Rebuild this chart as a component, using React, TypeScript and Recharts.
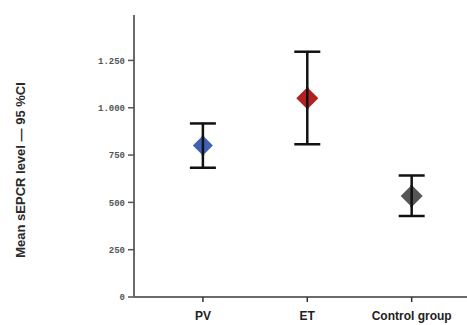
import { ScatterChart, Scatter, XAxis, YAxis, ErrorBar } from 'recharts';

const groups = ['PV', 'ET', 'Control group'];
const means = [800, 1050, 533];
const lower = [683, 807, 428];
const upper = [917, 1296, 642];
const colors = ['#3f60b3', '#b3211e', '#565656'];
const yTicks = [0, 250, 500, 750, 1000, 1250];

const data = groups.map((name, i) => ({
    x: i + 1,
    name,
    mean: means[i],
    err: [means[i] - lower[i], upper[i] - means[i]],
    color: colors[i],
}));

// 1.250 style with a dot as thousands separator
const fmtY = (v: number) => v >= 1000 ? `${Math.floor(v / 1000)}.${String(v % 1000).padStart(3, '0')}` : String(v);

const Diamond = (props: any) => {
    const { cx, cy, payload } = props;
    const h = payload.x === 1 ? 10 : 11;
    return (
        <g>
            <polygon points={`${cx},${cy - h} ${cx + h},${cy} ${cx},${cy + h} ${cx - h},${cy}`} fill={payload.color} />
            <line x1={cx} y1={cy - h} x2={cx} y2={cy + h} stroke="#111" strokeWidth={2.5} />
        </g>
    );
};

const axisLine = { stroke: '#6a6a6a', strokeWidth: 2 };

export default function App() {
    return (
        <div style={{ position: 'absolute', left: 0, top: 0, width: 467, height: 325, background: '#fff' }}>
            <ScatterChart width={467} height={325} margin={{ top: 15, right: 0, bottom: 0, left: 0 }}>
                <XAxis
                    xAxisId="top"
                    orientation="top"
                    type="number"
                    dataKey="x"
                    domain={[0.34, 3.53]}
                    height={0}
                    tick={false}
                    tickLine={false}
                    axisLine={axisLine}
                />
                <XAxis
                    type="number"
                    dataKey="x"
                    domain={[0.34, 3.53]}
                    ticks={[1, 2, 3]}
                    tickFormatter={(v) => groups[v - 1]}
                    height={28}
                    axisLine={axisLine}
                    tickLine={{ stroke: '#333', strokeWidth: 1.5 }}
                    tickSize={5}
                    tickMargin={9}
                    tick={{ fill: '#222', fontSize: 12, fontWeight: 700, fontFamily: 'Liberation Sans, Arial, sans-serif' }}
                />
                <YAxis
                    type="number"
                    dataKey="mean"
                    domain={[0, 1490]}
                    ticks={yTicks}
                    tickFormatter={fmtY}
                    width={134}
                    axisLine={axisLine}
                    tickLine={{ stroke: '#555', strokeWidth: 1.5 }}
                    tickSize={6}
                    tickMargin={3}
                    tick={{ fill: '#555', fontSize: 9, fontFamily: 'Liberation Mono, monospace', fontWeight: 700 }}
                    label={{
                        content: ({ viewBox }: any) => {
                            const x = viewBox.x + 20;
                            const y = viewBox.y + viewBox.height / 2 + 14;
                            return (
                                <text x={x} y={y} transform={`rotate(-90, ${x}, ${y})`} textAnchor="middle" dominantBaseline="central"
                                    fill="#2a2a2a" fontSize={13} fontWeight={700} fontFamily="Liberation Sans, Arial, sans-serif">
                                    Mean sEPCR level — 95 %CI
                                </text>
                            );
                        },
                    }}
                />
                <Scatter data={data} dataKey="mean" shape={Diamond} isAnimationActive={false}>
                    <ErrorBar dataKey="err" direction="y" width={13} stroke="#111" strokeWidth={2.5} isAnimationActive={false} />
                </Scatter>
            </ScatterChart>
        </div>
    );
}
